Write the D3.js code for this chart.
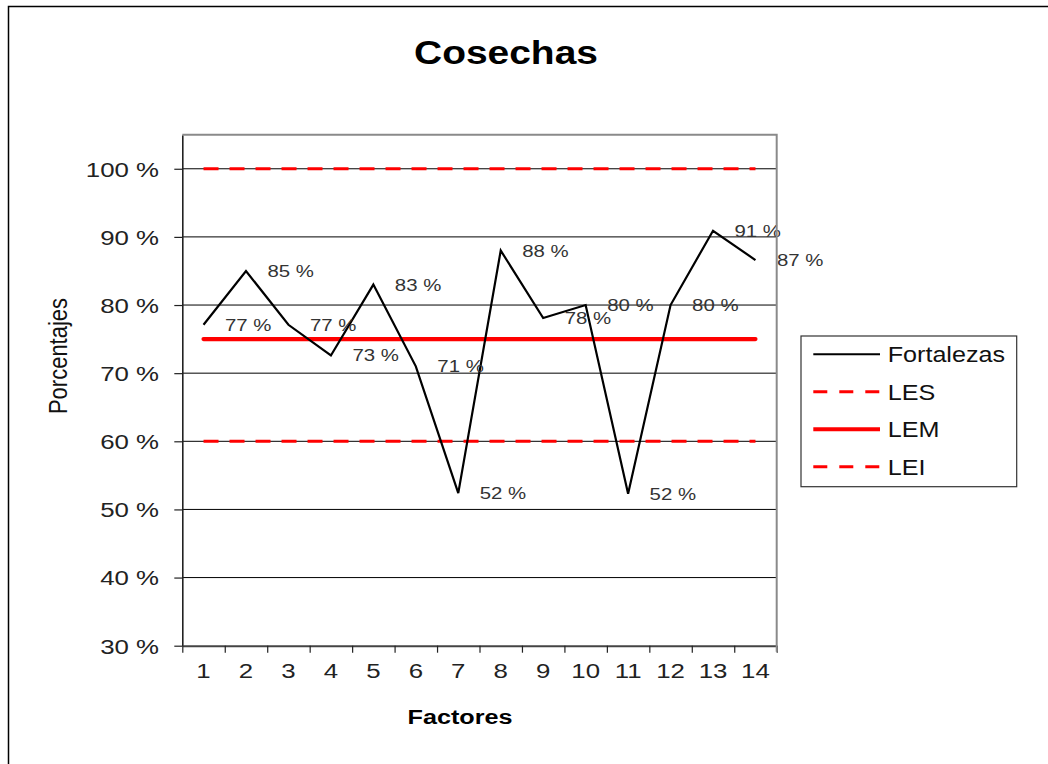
<!DOCTYPE html>
<html>
<head>
<meta charset="utf-8">
<script src="https://cdn.jsdelivr.net/npm/d3@7"></script>
<style>
  html, body { margin: 0; padding: 0; background: #fff; }
  svg { display: block; }
  text { font-family: "Liberation Sans", Arial, sans-serif; }
</style>
</head>
<body>
<svg id="chart" width="1048" height="764"></svg>
<script>
// Categories and series
const factores = ["1", "2", "3", "4", "5", "6", "7", "8", "9", "10", "11", "12", "13", "14"];
const fortalezas = [77.1, 85, 77.1, 72.6, 83, 71, 52.4, 88, 78.1, 80, 52.3, 80, 90.9, 86.6];
const les = [100, 100, 100, 100, 100, 100, 100, 100, 100, 100, 100, 100, 100, 100];
const lem = [75, 75, 75, 75, 75, 75, 75, 75, 75, 75, 75, 75, 75, 75];
const lei = [60, 60, 60, 60, 60, 60, 60, 60, 60, 60, 60, 60, 60, 60];
const yTicks = [30, 40, 50, 60, 70, 80, 90, 100];
const legendNames = ["Fortalezas", "LES", "LEM", "LEI"];

const svg = d3.select("#chart");
const plot = { left: 182.3, right: 776.7, top: 134.7, bottom: 645.7 };

const x = d3.scaleBand().domain(factores).range([plot.left, plot.right]).padding(0);
const xEdge = d3.scaleLinear().domain([0, factores.length]).range([plot.left, plot.right]);
const y = d3.scaleLinear().domain([30, 105]).range([plot.bottom, plot.top]);
const cx = d => x(d) + x.bandwidth() / 2;

// Text helper: horizontally widened lettering
function stretchText(sel, sx) {
  sel.attr("transform", function () {
    const t = d3.select(this).attr("transform") || "";
    return t + ` scale(${sx},1)`;
  });
}

// Outer frame
svg.append("rect")
  .attr("x", 8.5).attr("y", 6.5).attr("width", 1200).attr("height", 900)
  .attr("fill", "none").attr("stroke", "#000").attr("stroke-width", 1.5);

// Title
svg.append("text")
  .attr("transform", "translate(506,63.5) scale(1.18,1)")
  .attr("text-anchor", "middle")
  .attr("font-size", 33).attr("font-weight", "bold").attr("fill", "#000")
  .text("Cosechas");

// Gridlines
svg.append("g")
  .selectAll("line")
  .data(yTicks.filter(v => v > 30))
  .join("line")
  .attr("x1", plot.left).attr("x2", plot.right)
  .attr("y1", d => y(d)).attr("y2", d => y(d))
  .attr("stroke", "#000").attr("stroke-width", 1);

// Y axis
const yAxis = svg.append("g")
  .attr("transform", `translate(${plot.left},0)`)
  .call(d3.axisLeft(y).tickValues(yTicks).tickFormat(d => d + " %").tickSize(8).tickSizeOuter(0));
yAxis.select(".domain").attr("stroke", "#222").attr("stroke-width", 1.6);
yAxis.selectAll(".tick line").attr("stroke", "#222").attr("stroke-width", 1.2);
yAxis.selectAll(".tick text")
  .attr("font-family", "Liberation Sans, Arial, sans-serif")
  .attr("font-size", 20.5).attr("fill", "#222")
  .attr("x", -23.3 / 1.26).attr("dy", "0.36em")
  .attr("transform", "scale(1.26,1)");

// X axis: boundary ticks
const xTickAxis = svg.append("g")
  .attr("transform", `translate(0,${plot.bottom})`)
  .call(d3.axisBottom(xEdge).ticks(factores.length).tickValues(d3.range(0, factores.length + 1)).tickFormat("").tickSize(7).tickSizeOuter(0));
xTickAxis.select(".domain").attr("stroke", "#444").attr("stroke-width", 2);
xTickAxis.selectAll(".tick line").attr("stroke", "#222").attr("stroke-width", 1.2);

// X axis: category labels
const xAxis = svg.append("g")
  .attr("transform", `translate(0,${plot.bottom})`)
  .call(d3.axisBottom(x).tickSize(0));
xAxis.select(".domain").remove();
xAxis.selectAll(".tick text")
  .attr("font-family", "Liberation Sans, Arial, sans-serif")
  .attr("font-size", 20.5).attr("fill", "#222")
  .attr("y", 32.3).attr("dy", null)
  .attr("transform", "scale(1.26,1)");

// Axis titles
svg.append("text")
  .attr("transform", "translate(460,724) scale(1.2,1)")
  .attr("text-anchor", "middle")
  .attr("font-size", 21).attr("font-weight", "bold").attr("fill", "#000")
  .text("Factores");
svg.append("text")
  .attr("transform", "translate(67,356) scale(1.15,1) rotate(-90)")
  .attr("text-anchor", "middle")
  .attr("font-size", 22).attr("fill", "#111")
  .text("Porcentajes");

// Limit lines
const line = d3.line().x((d, i) => cx(factores[i])).y(d => y(d));
svg.append("path").datum(les).attr("d", line)
  .attr("fill", "none").attr("stroke", "#ff0000").attr("stroke-width", 3).attr("stroke-dasharray", "15,11");
svg.append("path").datum(lei).attr("d", line)
  .attr("fill", "none").attr("stroke", "#ff0000").attr("stroke-width", 3).attr("stroke-dasharray", "15,11");
svg.append("path").datum(lem).attr("d", line)
  .attr("fill", "none").attr("stroke", "#ff0000").attr("stroke-width", 4.2).attr("stroke-linecap", "round");

// Fortalezas series
svg.append("path").datum(fortalezas).attr("d", line)
  .attr("fill", "none").attr("stroke", "#000").attr("stroke-width", 2.2).attr("stroke-linejoin", "miter");

// Value labels
svg.append("g")
  .selectAll("text")
  .data(fortalezas)
  .join("text")
  .attr("transform", (d, i) => `translate(${cx(factores[i]) + 21.5},${y(d) + 6}) scale(1.2,1)`)
  .attr("font-size", 17).attr("fill", "#333")
  .text(d => Math.round(d) + " %");

// Plot area border (top and right)
svg.append("path")
  .attr("d", `M${plot.left},${plot.top}H${plot.right}V${plot.bottom + 6}`)
  .attr("fill", "none").attr("stroke", "#8a8a8a").attr("stroke-width", 2);

// Legend
const legend = svg.append("g");
legend.append("rect")
  .attr("x", 801).attr("y", 336).attr("width", 215.7).attr("height", 150.7)
  .attr("fill", "#fff").attr("stroke", "#333").attr("stroke-width", 1.2);
const legendStyles = [
  { stroke: "#000", width: 2, dash: null },
  { stroke: "#ff0000", width: 3, dash: "14,12" },
  { stroke: "#ff0000", width: 4.2, dash: null },
  { stroke: "#ff0000", width: 3, dash: "14,12" }
];
const rowY = d3.scalePoint().domain(legendNames).range([354.3, 466.7]);
const rows = legend.selectAll("g.row").data(legendNames).join("g").attr("class", "row");
rows.append("line")
  .attr("x1", 813.3).attr("x2", 880)
  .attr("y1", d => rowY(d)).attr("y2", d => rowY(d))
  .attr("stroke", (d, i) => legendStyles[i].stroke)
  .attr("stroke-width", (d, i) => legendStyles[i].width)
  .attr("stroke-dasharray", (d, i) => legendStyles[i].dash);
rows.append("text")
  .attr("transform", d => `translate(887.7,${rowY(d) + 8}) scale(1.17,1)`)
  .attr("font-size", 21.5).attr("fill", "#111")
  .text(d => d);
</script>
</body>
</html>
